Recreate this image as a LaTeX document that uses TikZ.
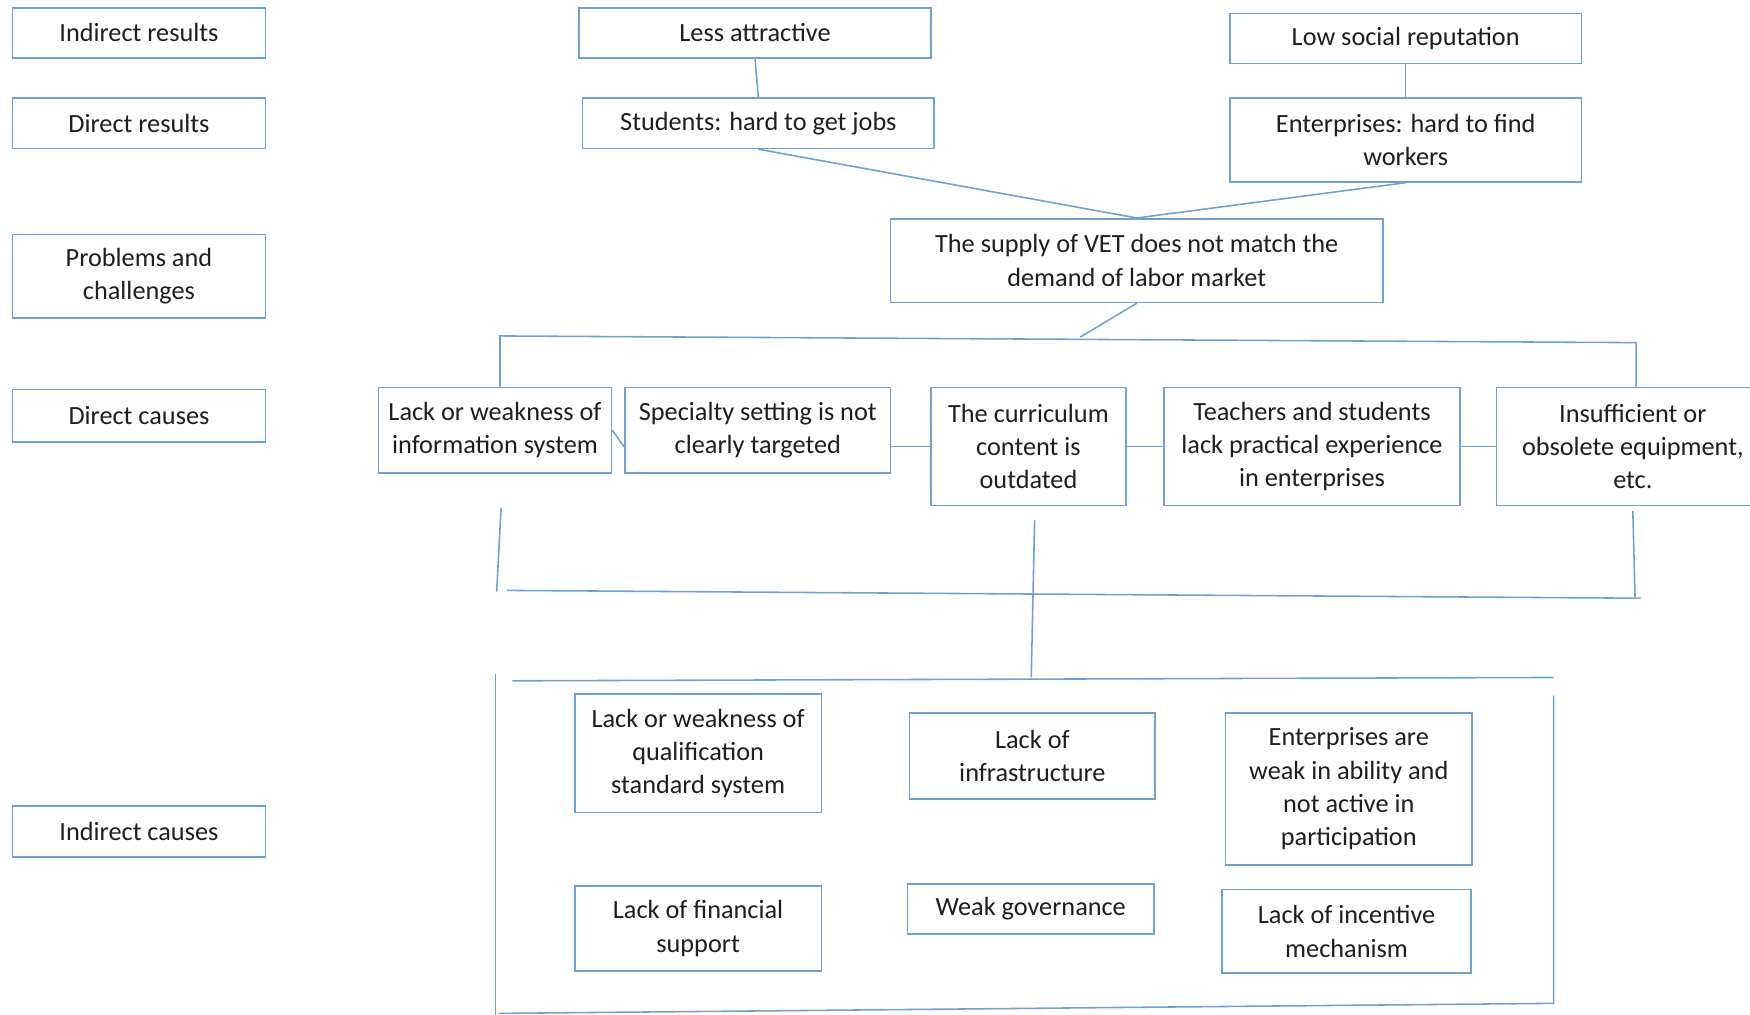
\documentclass[tikz,border=0pt]{standalone}
\usepackage{fontspec}
\setmainfont{Carlito}
\usetikzlibrary{calc}
\definecolor{boxblue}{RGB}{112,160,210}
\definecolor{txtgray}{RGB}{30,30,30}

\begin{document}
\begin{tikzpicture}[x=0.02cm, y=-0.02cm,
  box/.style={draw=boxblue, line width=0.8pt, fill=white, align=center,
    inner sep=0pt, text=txtgray, font=\fontsize{13.4}{17}\selectfont},
  link/.style={draw=boxblue, line width=0.8pt}]

  \useasboundingbox (0,0) rectangle (1568,909);
  \clip (0,0) rectangle (1568,909);

  % level labels
  \node[box, minimum width=4.54cm, minimum height=0.9cm] (lvIndRes) at (124.5,29.5) {Indirect results};
  \node[box, minimum width=4.54cm, minimum height=0.9cm] (lvDirRes) at (124.5,110.5) {Direct results};
  \node[box, minimum width=4.54cm, minimum height=1.5cm] (lvProb) at (124.5,247.5) {Problems and\\challenges};
  \node[box, minimum width=4.54cm, minimum height=0.94cm] (lvDirCau) at (124.5,372.5) {Direct causes};
  \node[box, minimum width=4.54cm, minimum height=0.92cm] (lvIndCau) at (124.5,745) {Indirect causes};

  % results
  \node[box, minimum width=6.3cm, minimum height=0.9cm] (less) at (676.5,29.5) {Less attractive};
  \node[box, minimum width=6.3cm, minimum height=0.9cm] (jobs) at (679.5,110.5) {Students: hard to get jobs};
  \node[box, minimum width=6.3cm, minimum height=0.9cm] (repu) at (1259.5,34.5) {Low social reputation};
  \node[box, minimum width=6.3cm, minimum height=1.5cm] (workers) at (1259.5,125.5) {Enterprises: hard to find\\workers};
  \node[box, minimum width=8.82cm, minimum height=1.5cm] (supply) at (1018.5,233.5) {The supply of VET does not match the\\demand of labor market};

  % direct causes
  \node[box, minimum width=4.18cm, minimum height=1.54cm] (info) at (443.5,385.5) {Lack or weakness of\\information system};
  \node[box, minimum width=4.76cm, minimum height=1.54cm] (spec) at (679,385.5) {Specialty setting is not\\clearly targeted};
  \node[box, minimum width=3.5cm, minimum height=2.12cm] (curr) at (921.5,400) {The curriculum\\content is\\outdated};
  \node[box, minimum width=5.3cm, minimum height=2.12cm] (teach) at (1175.5,400) {Teachers and students\\lack practical experience\\in enterprises};
  \node[box, minimum width=4.88cm, minimum height=2.12cm] (equip) at (1463,400) {Insufficient or\\obsolete equipment,\\etc.};

  % indirect causes
  \node[box, minimum width=4.42cm, minimum height=2.12cm] (qual) at (625.5,675) {Lack or weakness of\\qualification\\standard system};
  \node[box, minimum width=4.4cm, minimum height=1.54cm] (infra) at (925,677.5) {Lack of\\infrastructure};
  \node[box, minimum width=4.42cm, minimum height=2.72cm] (enter) at (1208.5,707) {Enterprises are\\weak in ability and\\not active in\\participation};
  \node[box, minimum width=4.42cm, minimum height=1.52cm] (fin) at (625.5,832) {Lack of financial\\support};
  \node[box, minimum width=4.42cm, minimum height=0.9cm] (gov) at (923.5,814.5) {Weak governance};
  \node[box, minimum width=4.46cm, minimum height=1.5cm] (incent) at (1206.5,834.5) {Lack of incentive\\mechanism};

  \draw[link] (less.south) -- (jobs.north); % less->jobs
  \draw[link] (repu.south) -- (workers.north); % repu->workers
  \draw[link] (jobs.south) -- (supply.north); % jobs->supply
  \draw[link] (workers.south) -- (supply.north); % workers->supply

  \coordinate (barL) at (448,301);
  \coordinate (barM) at (968,302);
  \coordinate (barR) at (1466,307);
  \draw[link] (supply.south) -- (barM);
  \draw[link] (barL |- info.north) -- (barL) -- (barR) -- (barR |- equip.north);

  \draw[link] (info.east) -- ($(spec.west)+(0,15)$); % info->spec
  \draw[link] (spec.east |- curr.west) -- (curr.west); % spec->curr
  \draw[link] (curr.east) -- (teach.west); % curr->teach
  \draw[link] (teach.east) -- (equip.west); % teach->equip

  % bracket under direct causes
  \coordinate (upA) at (449,455);
  \coordinate (upB) at (445,530);
  \coordinate (hA) at (454,529);
  \coordinate (hB) at (1470,536);
  \coordinate (rA) at (1463,458);
  \coordinate (rB) at (1465,535);
  \coordinate (cA) at (927,466);
  \coordinate (cB) at (924,607);
  \draw[link] (upA) -- (upB);
  \draw[link] (hA) -- (hB);
  \draw[link] (rA) -- (rB);
  \draw[link] (cA) -- (cB);

  % frame round indirect causes
  \coordinate (gTL) at (444,604);
  \coordinate (gBL) at (444,909);
  \coordinate (gH1) at (459,610);
  \coordinate (gH2) at (1392,607);
  \coordinate (gR1) at (1392,623);
  \coordinate (gR2) at (1392,899);
  \coordinate (gB1) at (447,908);
  \draw[link] (gTL) -- (gBL);
  \draw[link] (gH1) -- (gH2);
  \draw[link] (gR1) -- (gR2) -- (gB1);

\end{tikzpicture}
\end{document}
